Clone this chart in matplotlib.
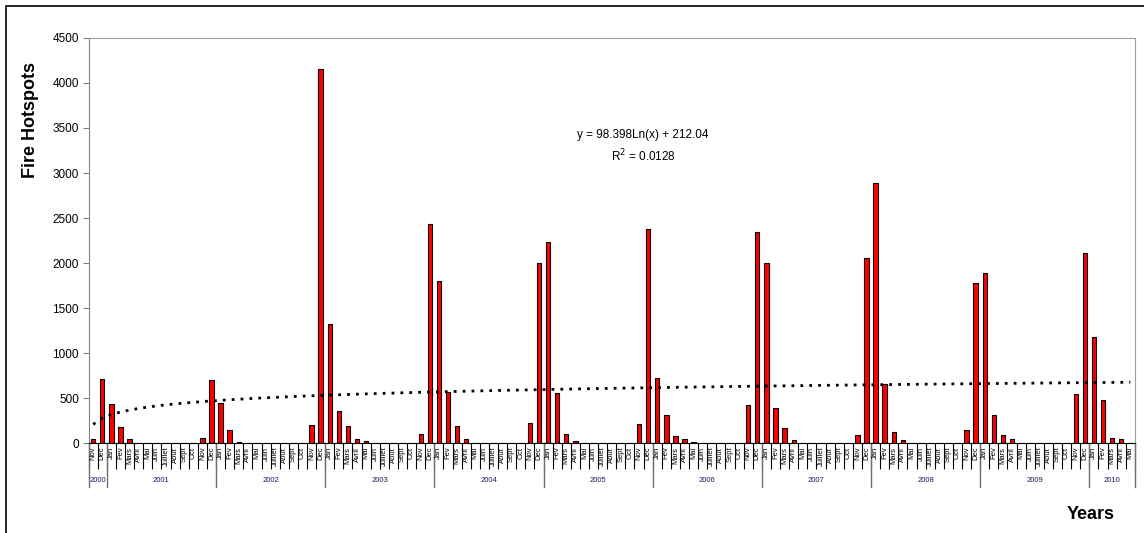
import numpy as np
import matplotlib
matplotlib.use('Agg')
import matplotlib.pyplot as plt
from matplotlib.patches import Rectangle
from matplotlib.lines import Line2D
import matplotlib.transforms as mtransforms

plt.rcParams['font.family'] = ['Liberation Sans', 'DejaVu Sans']

# monthly fire hotspots, Nov 2000 -> May 2010
month_names = ['Jan', 'Fev', 'Mars', 'Avril', 'Mai', 'Juin', 'Juillet',
               'Aout', 'Sept', 'Oct', 'Nov', 'Dec']
years = ['2000', '2001', '2002', '2003', '2004', '2005', '2006', '2007',
         '2008', '2009', '2010']
months_per_year = [2, 12, 12, 12, 12, 12, 12, 12, 12, 12, 5]

hotspots = [
    45, 710,                                                    # 2000 Nov-Dec
    435, 180, 47, 10, 0, 0, 0, 0, 0, 0, 58, 700,                # 2001
    445, 146, 15, 0, 0, 0, 0, 0, 0, 0, 208, 4150,               # 2002
    1328, 357, 197, 47, 25, 0, 0, 0, 0, 0, 102, 2430,           # 2003
    1800, 571, 194, 47, 8, 0, 0, 0, 0, 0, 231, 2000,            # 2004
    2240, 560, 102, 25, 0, 8, 0, 0, 0, 0, 220, 2380,            # 2005
    723, 316, 83, 47, 17, 0, 0, 0, 0, 0, 423, 2350,             # 2006
    2000, 390, 169, 39, 0, 0, 0, 0, 0, 0, 94, 2060,             # 2007
    2890, 656, 124, 39, 8, 0, 0, 0, 0, 0, 146, 1780,            # 2008
    1890, 316, 91, 47, 0, 0, 0, 0, 0, 0, 549, 2110,             # 2009
    1178, 479, 58, 47, 0,                                       # 2010 Jan-May
]

# trend line coefficients as printed on the chart
trend_a = 98.398
trend_b = 212.04

# month labels for every bar
labels = ['Nov', 'Dec']
for n in months_per_year[1:-1]:
    labels += month_names
labels += month_names[:months_per_year[-1]]

x = np.arange(len(hotspots))
y = np.array(hotspots, dtype=float)

# logarithmic trend line (Excel style, x = 1..n)
trend = trend_a * np.log(x + 1) + trend_b

fig = plt.figure(figsize=(11.44, 5.33), dpi=100)
ax = fig.add_axes([0.0775, 0.168, 0.9145, 0.761])

# light shadow behind bars, then the bars
ax.bar(x + 0.1, y, width=0.48, color='#b8b8b8', linewidth=0, zorder=1)
ax.bar(x, y, width=0.48, color='#ff0000', edgecolor='black', linewidth=0.8, zorder=2)
ax.plot(x, trend, color='black', linewidth=2, linestyle=(0, (1.0, 2.2)), zorder=3)

ax.set_xlim(-0.5, len(x) - 0.5)
ax.set_ylim(0, 4500)
ax.set_yticks(np.arange(0, 4501, 500))
ax.tick_params(axis='y', labelsize=8.5, length=4, color='#808080', pad=3)

for s in ['top', 'right', 'left']:
    ax.spines[s].set_color('#a0a0a0')
ax.spines['left'].set_color('#808080')
ax.spines['bottom'].set_color('black')

# month separators as ticks, month names as rotated text
ax.set_xticks(np.arange(-0.5, len(x), 1))
ax.set_xticklabels([])
ax.tick_params(axis='x', length=19, width=0.8, color='black')

trans = mtransforms.blended_transform_factory(ax.transData, ax.transAxes)
for i, lab in enumerate(labels):
    ax.text(i, -0.008, lab, rotation=90, ha='center', va='top', fontsize=5.5,
            transform=trans)

# year groups
start = 0
for yr, n in zip(years, months_per_year):
    left = start - 0.5
    right = start + n - 0.5
    ax.add_line(Line2D([left, left], [0, -0.108], transform=trans, color='#707070',
                       linewidth=1, clip_on=False))
    ax.text((left + right) / 2, -0.092, yr, ha='center', va='center', fontsize=5.5,
            color='#1a1a60', transform=trans)
    start += n
ax.add_line(Line2D([start - 0.5, start - 0.5], [0, -0.108], transform=trans,
                   color='#707070', linewidth=1, clip_on=False))

ax.text(0.53, 0.76, 'y = 98.398Ln(x) + 212.04', transform=ax.transAxes,
        ha='center', va='center', fontsize=8.5)
ax.text(0.53, 0.708, 'R$^2$ = 0.0128', transform=ax.transAxes,
        ha='center', va='center', fontsize=8.5)

fig.text(0.027, 0.775, 'Fire Hotspots', rotation=90, ha='center', va='center',
         fontsize=13, fontweight='bold')
fig.text(0.953, 0.034, 'Years', ha='center', va='center', fontsize=13,
         fontweight='bold')

# chart area border
fig.add_artist(Rectangle((6 / 1144, -0.1), 1.2, 1.0887, transform=fig.transFigure,
                         fill=False, edgecolor='black', linewidth=1.2))

fig.savefig('out.png', dpi=100)
